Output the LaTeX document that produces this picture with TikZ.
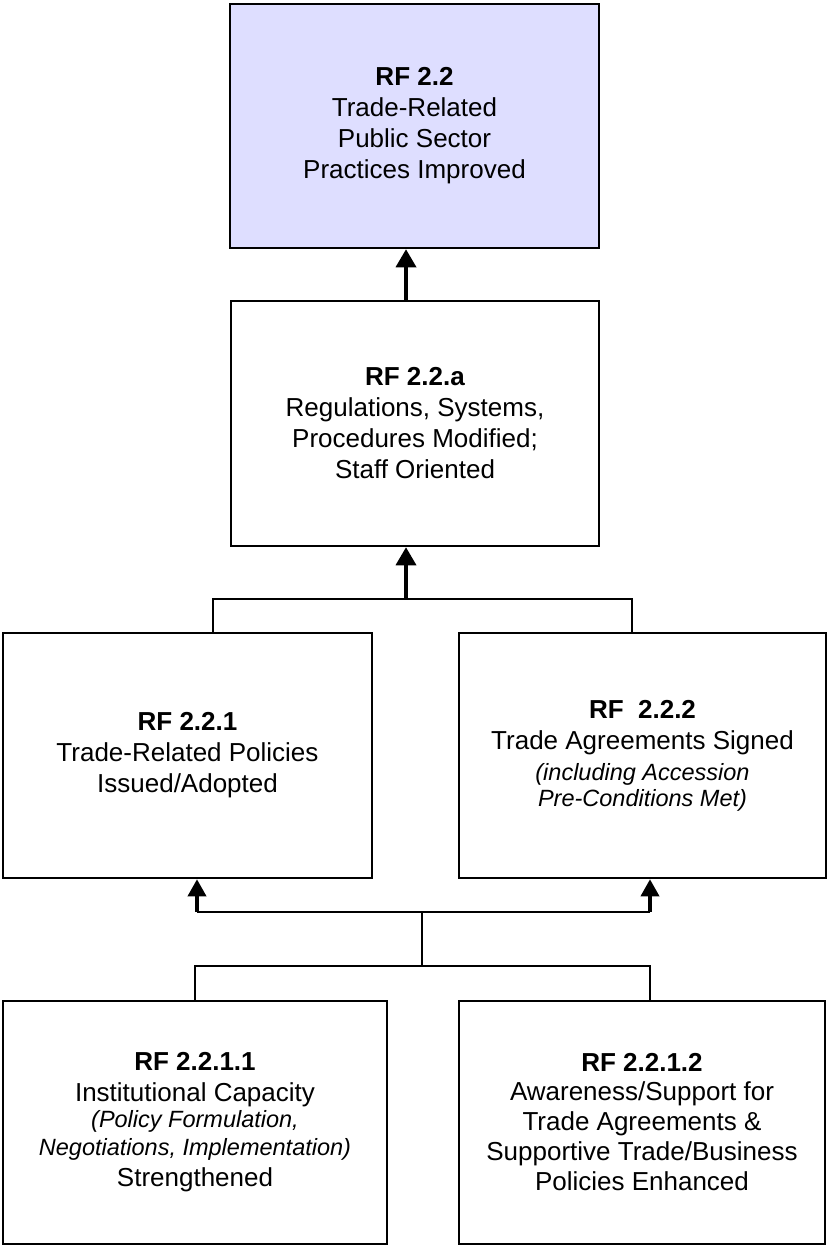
\documentclass[tikz,border=0pt]{standalone}
\usepackage{fontspec}
\setmainfont{Liberation Sans}
\usetikzlibrary{arrows.meta}
\definecolor{goalfill}{RGB}{222,222,255}
\newcommand{\sub}[1]{{\fontsize{23.5}{28}\selectfont\itshape #1}}
\begin{document}
\begin{tikzpicture}[x=1pt,y=-1pt,
  box/.style={draw=black,line width=2.5pt,rectangle,inner sep=0pt,align=center,
    font=\fontsize{26}{31}\selectfont},
  conn/.style={line width=2pt},
  uparrow/.style={line width=3.5pt,-{Triangle[width=20pt,length=18pt]}},
  smallarrow/.style={line width=3.5pt,-{Triangle[width=18pt,length=17pt]}}]
\useasboundingbox (0,0) rectangle (827,1247);

% result boxes
\node[box,fill=goalfill,minimum width=369pt,minimum height=244pt] (top) at (414.5,126)
  {\textbf{RF 2.2}\\Trade-Related\\Public Sector\\Practices Improved};
\node[box,minimum width=368pt,minimum height=245pt] (mid) at (415,423.5)
  {\textbf{RF 2.2.a}\\Regulations, Systems,\\Procedures Modified;\\Staff Oriented};
\node[box,minimum width=369pt,minimum height=245pt] (left) at (187.5,755.5)
  {\textbf{RF 2.2.1}\\Trade-Related Policies\\Issued/Adopted};
\node[box,minimum width=367pt,minimum height=245pt] (right) at (642.5,755.5)
  {\textbf{RF\ \ 2.2.2}\\Trade Agreements Signed\\\sub{(including Accession}\\[-5pt]\sub{Pre-Conditions Met)}};
\node[box,minimum width=384pt,minimum height=243pt] (bleft) at (195,1122.5)
  {\textbf{RF 2.2.1.1}\\Institutional Capacity\\[-5pt]\sub{(Policy Formulation,}\\[-3pt]\sub{Negotiations, Implementation)}\\Strengthened};
\node[box,minimum width=366pt,minimum height=243pt] (bright) at (642,1122.5)
  {\textbf{RF 2.2.1.2}\\[-2pt]Awareness/Support for\\[-1pt]Trade Agreements \&\\[-1pt]Supportive Trade/Business\\[-1pt]Policies Enhanced};

% junction points of the connectors
\coordinate (ax) at (406,0);
\coordinate (j1) at (406,599);
\coordinate (j2) at (422,912);
\coordinate (j3) at (422,966);
\coordinate (a1) at (197,912);
\coordinate (a2) at (650,912);
\coordinate (b2) at (650,966);

% RF 2.2.a -> RF 2.2
\draw[uparrow] (mid.north -| ax) -- (top.south -| ax);

% RF 2.2.1 and RF 2.2.2 -> RF 2.2.a
\draw[conn] ([xshift=25.5pt]left.north) |- (j1) -| ([xshift=-10.5pt]right.north);
\draw[uparrow] (j1) -- (mid.south -| j1);

% RF 2.2.1.1 and RF 2.2.1.2 -> RF 2.2.1 and RF 2.2.2
\draw[conn] (bleft.north) |- (j3) -| (bright.north -| b2);
\draw[conn] (j3) -- (j2);
\draw[conn] (a1) -- (a2);
\draw[smallarrow] (a1) -- (left.south -| a1);
\draw[smallarrow] (a2) -- (right.south -| a2);
\end{tikzpicture}
\end{document}
